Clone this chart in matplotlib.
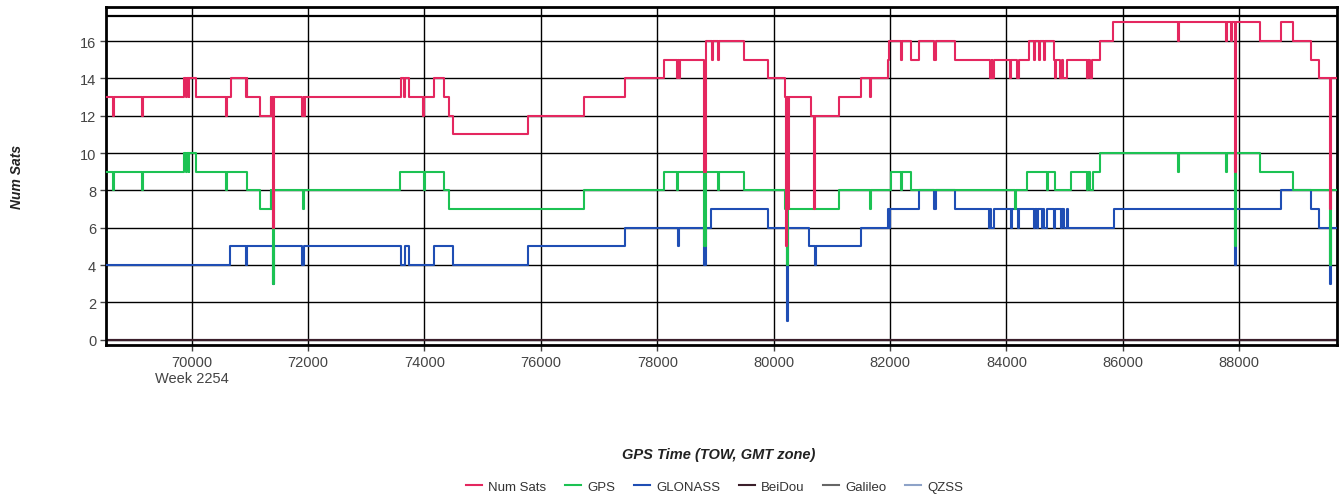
import numpy as np
import matplotlib.pyplot as plt

# satellite counts vs GPS time of week (step changes)
num_t = [68500, 68641, 68660, 69138, 69157, 69868, 69900, 69920, 69945, 69960, 70069,
         70583, 70602, 70668, 70930, 70945, 70955, 71171, 71354, 71370, 71385, 71400, 71418,
         71900, 71925, 71935, 71950, 73594, 73650, 73670, 73742, 73982, 74000, 74165, 74336,
         74428, 74497, 75775, 76736, 77444, 78124, 78335, 78355, 78370, 78385, 78810, 78830,
         78942, 78960, 79038, 79056, 79484, 79896, 80198, 80215, 80235, 80245, 80265, 80638,
         80695, 80713, 81124, 81495, 81650, 81668, 81960, 81990, 82181, 82200, 82352, 82506,
         82760, 82790, 83124, 83725, 83745, 83760, 83780, 84066, 84085, 84180, 84209, 84381,
         84467, 84485, 84552, 84570, 84640, 84670, 84809, 84838, 84856, 84924, 84960, 84980,
         85038, 85380, 85400, 85440, 85466, 85609, 85837, 86940, 86958, 87780, 87798, 87855,
         87873, 87923, 87945, 88352, 88712, 88923, 89226, 89363, 89552, 89570, 89700]
num_v = [13, 12, 13, 12, 13, 14, 13, 14, 13, 14, 13,
         12, 13, 14, 13, 14, 13, 12, 13, 12, 13, 6, 13,
         12, 13, 12, 13, 14, 13, 14, 13, 12, 13, 14, 13,
         12, 11, 12, 13, 14, 15, 14, 15, 14, 15, 9, 16,
         15, 16, 15, 16, 15, 14, 13, 5, 13, 7, 13, 12,
         7, 12, 13, 14, 13, 14, 15, 16, 15, 16, 15, 16,
         15, 16, 15, 14, 15, 14, 15, 14, 15, 14, 15, 16,
         15, 16, 15, 16, 15, 16, 15, 14, 15, 14, 15, 14,
         15, 14, 15, 14, 15, 16, 17, 16, 17, 16, 17, 16,
         17, 9, 17, 16, 17, 16, 15, 14, 7, 14, 14]

gps_t = [68500, 68641, 68660, 69138, 69157, 69868, 69900, 69920, 69945, 69960, 70069,
         70583, 70602, 70955, 71171, 71354, 71370, 71385, 71400, 71418, 71908, 71926,
         73571, 73985, 74003, 74342, 74428, 76736, 78124, 78335, 78353, 78810, 78830,
         79038, 79056, 79484, 80198, 80227, 80245, 81124, 81650, 81668, 82010, 82181,
         82199, 82352, 84140, 84158, 84352, 84695, 84713, 84838, 85112, 85376, 85395,
         85440, 85480, 85609, 86940, 86958, 87780, 87798, 87923, 87945, 88352, 88923,
         89552, 89570, 89700]
gps_v = [9, 8, 9, 8, 9, 10, 9, 10, 9, 10, 9,
         8, 9, 8, 7, 8, 7, 8, 3, 8, 7, 8,
         9, 8, 9, 8, 7, 8, 9, 8, 9, 5, 9,
         8, 9, 8, 7, 4, 7, 8, 7, 8, 9, 8,
         9, 8, 7, 8, 9, 8, 9, 8, 9, 8, 9,
         8, 9, 10, 9, 10, 9, 10, 5, 10, 9, 8,
         4, 8, 8]

glo_t = [68500, 70657, 70926, 70944, 71400, 71418, 71900, 71935, 73594, 73660, 73742,
         74165, 74497, 75781, 77444, 78352, 78370, 78810, 78830, 78925, 79896, 80227,
         80250, 80610, 80712, 80730, 81495, 81965, 81980, 81995, 82506, 82760, 82790,
         83124, 83695, 83720, 83735, 83780, 84075, 84095, 84200, 84220, 84470, 84490,
         84520, 84545, 84610, 84630, 84650, 84690, 84810, 84830, 84930, 84960, 84985,
         85040, 85066, 85850, 87923, 87945, 88712, 89226, 89363, 89552, 89570, 89700]
glo_v = [4, 5, 4, 5, 3, 5, 4, 5, 4, 5, 4,
         5, 4, 5, 6, 5, 6, 4, 6, 7, 6, 1,
         6, 5, 4, 5, 6, 7, 6, 7, 8, 7, 8,
         7, 6, 7, 6, 7, 6, 7, 6, 7, 6, 7,
         6, 7, 6, 7, 6, 7, 6, 7, 6, 7, 6,
         7, 6, 7, 4, 7, 8, 7, 6, 3, 6, 6]

# constellations with no satellites in view
zero_t = [68500, 89700]
beidou_v = [0, 0]
galileo_v = [0, 0]
qzss_v = [0, 0]

xticks = [70000, 72000, 74000, 76000, 78000, 80000, 82000, 84000, 86000, 88000]
xlabels = ['70000\nWeek 2254', '72000', '74000', '76000', '78000', '80000',
           '82000', '84000', '86000', '88000']
yticks = [0, 2, 4, 6, 8, 10, 12, 14, 16]

plt.rcParams['font.family'] = ['Liberation Sans', 'DejaVu Sans']

fig = plt.figure(figsize=(13.41, 5.02), dpi=100)
ax = fig.add_axes([0.079, 0.311, 0.918, 0.673])

ax.plot(zero_t, qzss_v, color='#8ea3c8', lw=1.5, drawstyle='steps-post', label='QZSS', zorder=2)
ax.plot(zero_t, galileo_v, color='#666666', lw=1.5, drawstyle='steps-post', label='Galileo', zorder=2)
ax.plot(zero_t, beidou_v, color='#3b1f2b', lw=1.5, drawstyle='steps-post', label='BeiDou', zorder=2)
ax.plot(glo_t, glo_v, color='#1f4eb4', lw=1.5, drawstyle='steps-post', label='GLONASS', zorder=3)
ax.plot(gps_t, gps_v, color='#1cc253', lw=1.5, drawstyle='steps-post', label='GPS', zorder=4)
ax.plot(num_t, num_v, color='#e4275f', lw=1.5, drawstyle='steps-post', label='Num Sats', zorder=5)

ax.axhline(17.33, color='black', lw=1.6, zorder=6)

ax.set_xlim(68526, 89680)
ax.set_ylim(-0.27, 17.82)
ax.set_xticks(xticks)
ax.set_xticklabels(xlabels)
ax.set_yticks(yticks)
ax.grid(True, color='black', lw=1.0)
ax.set_axisbelow(True)
ax.tick_params(axis='both', direction='out', length=4, width=1, colors='#444444',
               labelsize=10.5, pad=3)
for s in ax.spines.values():
    s.set_linewidth(2)
    s.set_color('black')

fig.text(0.0127, 0.647, 'Num Sats', rotation=90, ha='center', va='center',
         fontsize=10, fontweight='bold', fontstyle='italic', color='#222222')
fig.text(0.536, 0.094, 'GPS Time (TOW, GMT zone)', ha='center', va='center',
         fontsize=10.5, fontweight='bold', fontstyle='italic', color='#222222')

handles, labels = ax.get_legend_handles_labels()
order = ['Num Sats', 'GPS', 'GLONASS', 'BeiDou', 'Galileo', 'QZSS']
hmap = dict(zip(labels, handles))
fig.legend([hmap[k] for k in order], order, loc='center', bbox_to_anchor=(0.533, 0.028),
           ncol=6, frameon=False, fontsize=9.5, handlelength=1.2, handletextpad=0.5,
           columnspacing=1.4, labelcolor='#333333')

fig.savefig('out.png', dpi=100)
